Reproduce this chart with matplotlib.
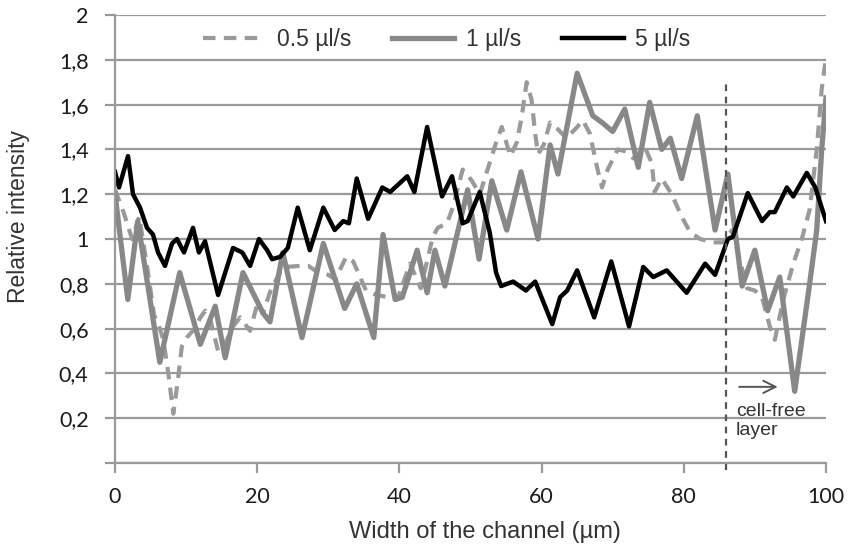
import matplotlib
matplotlib.use("Agg")
import matplotlib.pyplot as plt

# values
x05 = [0, 1.2, 2.4, 3.4, 4.5, 5.5, 6.1, 6.8, 7.5, 8.2, 8.8, 9.4, 10.1, 11.2, 12.0, 12.7,
       13.4, 14.5, 15.3, 16.6, 17.6, 19.0, 20.1, 20.8, 22.0, 23.2, 23.9, 26.0, 27.2, 28.6,
       30.0, 31.0, 32.5, 33.5, 34.2, 35.3, 36.8, 38.5, 39.7, 41.5, 43.0, 44.7, 45.4, 46.7,
       47.5, 48.9, 50.2, 51.3, 52.7, 53.7, 54.4, 55.6, 56.5, 57.2, 57.9, 58.6, 59.1, 59.5,
       60.3, 61.2, 62.3, 63.5, 65.0, 65.8, 66.8, 67.8, 68.5, 69.3, 70.7, 72.0, 72.9, 74.5,
       75.5, 75.9, 76.9, 78.3, 79.7, 80.9, 82.3, 84.1, 85.5, 86.8, 88.9, 90.0, 91.0, 92.1,
       92.8, 94.0, 95.4, 96.6, 97.7, 98.7, 99.4, 100]
y05 = [1.22, 1.12, 1.00, 1.10, 0.88, 0.66, 0.62, 0.55, 0.40, 0.22, 0.36, 0.52, 0.56, 0.60, 0.65, 0.68,
       0.64, 0.50, 0.52, 0.61, 0.65, 0.59, 0.72, 0.67, 0.78, 0.85, 0.875, 0.88, 0.88, 0.85,
       0.84, 0.82, 0.92, 0.90, 0.85, 0.77, 0.75, 0.74, 0.73, 0.89, 0.78, 1.01, 1.05, 1.07,
       1.14, 1.31, 1.26, 1.20, 1.34, 1.44, 1.50, 1.37, 1.43, 1.545, 1.70, 1.62, 1.47, 1.38,
       1.42, 1.52, 1.49, 1.45, 1.50, 1.53, 1.47, 1.32, 1.23, 1.31, 1.40, 1.39, 1.36, 1.41,
       1.34, 1.21, 1.27, 1.20, 1.10, 1.03, 1.00, 0.985, 0.985, 1.04, 0.78, 0.77, 0.74, 0.61,
       0.55, 0.73, 0.89, 1.00, 1.13, 1.40, 1.67, 1.81]

x1 = [0, 1.8, 3.2, 6.3, 9.1, 12.0, 14.1, 15.5, 18.0, 20.8, 21.8, 23.6, 26.3, 29.3, 32.3,
      34.0, 36.4, 37.7, 39.4, 40.4, 42.5, 43.9, 45.0, 46.4, 49.6, 51.2, 53.0, 55.1, 57.1,
      59.5, 61.2, 62.3, 65.0, 67.2, 68.5, 70.0, 71.7, 73.6, 75.2, 76.9, 78.1, 79.7, 81.9,
      84.4, 86.2, 88.2, 90.0, 91.8, 93.5, 95.6, 97.7, 98.7, 99.4, 100]
y1 = [1.20, 0.73, 1.08, 0.45, 0.85, 0.53, 0.70, 0.47, 0.85, 0.67, 0.63, 0.94, 0.56, 0.98, 0.69,
      0.80, 0.56, 1.02, 0.73, 0.74, 0.95, 0.76, 0.95, 0.79, 1.22, 0.91, 1.26, 1.04, 1.30,
      1.00, 1.42, 1.29, 1.74, 1.55, 1.52, 1.48, 1.58, 1.32, 1.61, 1.40, 1.45, 1.27, 1.55,
      1.04, 1.29, 0.79, 0.95, 0.68, 0.83, 0.32, 0.80, 1.04, 1.40, 1.63]

x5 = [0, 0.56, 1.83, 2.53, 3.52, 4.5, 5.34, 6.05, 7.03, 8.02, 8.72, 9.7, 10.97, 11.8, 12.66,
      14.5, 16.6, 17.9, 19.0, 20.25, 21.4, 22.1, 23.2, 24.3, 25.7, 27.4, 29.3, 30.9, 32.1,
      32.9, 34.0, 35.6, 37.6, 38.7, 41.1, 42.1, 43.9, 46.0, 47.4, 48.9, 49.6, 51.3, 52.7,
      53.6, 54.3, 56.0, 57.8, 59.1, 61.5, 62.6, 63.6, 65.0, 67.4, 69.8, 72.3, 74.3, 75.7,
      77.6, 80.4, 83.0, 84.4, 86.2, 86.9, 89.0, 91.0, 92.1, 92.8, 94.5, 95.4, 97.3, 98.5, 100]
y5 = [1.30, 1.23, 1.37, 1.20, 1.14, 1.05, 1.02, 0.94, 0.88, 0.98, 1.00, 0.94, 1.05, 0.94, 0.99,
      0.75, 0.96, 0.94, 0.88, 1.00, 0.95, 0.91, 0.92, 0.96, 1.14, 0.95, 1.14, 1.04, 1.08,
      1.07, 1.27, 1.09, 1.23, 1.21, 1.28, 1.21, 1.50, 1.19, 1.28, 1.07, 1.08, 1.21, 1.03,
      0.85, 0.79, 0.81, 0.77, 0.81, 0.62, 0.74, 0.77, 0.86, 0.65, 0.90, 0.61, 0.875, 0.83,
      0.86, 0.76, 0.89, 0.84, 1.00, 1.01, 1.205, 1.08, 1.12, 1.12, 1.23, 1.19, 1.295, 1.23, 1.08]

series_labels = ["0.5 µl/s", "1 µl/s", "5 µl/s"]
x_ticks = [0, 20, 40, 60, 80, 100]
y_ticks = [0, 0.2, 0.4, 0.6, 0.8, 1.0, 1.2, 1.4, 1.6, 1.8, 2.0]
y_tick_labels = ["", "0,2", "0,4", "0,6", "0,8", "1", "1,2", "1,4", "1,6", "1,8", "2"]
cell_free_x = 86

fig = plt.figure(figsize=(8.57, 5.49), dpi=100)
ax = fig.add_axes([0.1342, 0.1566, 0.8296, 0.8161])

grid_col = "#9a9a9a"
ax.plot(x05, y05, color="#9a9a9a", lw=3, dashes=[3, 2], label=series_labels[0],
        solid_joinstyle="round", dash_joinstyle="round")
ax.plot(x1, y1, color="#888888", lw=3.8, label=series_labels[1], solid_joinstyle="round")
ax.plot(x5, y5, color="black", lw=3.2, label=series_labels[2], solid_joinstyle="round")

ax.set_xlim(0, 100)
ax.set_ylim(0, 2)
ax.set_xticks(x_ticks)
ax.set_yticks(y_ticks)
ax.set_yticklabels(y_tick_labels)
ax.yaxis.grid(True, color=grid_col, lw=1.6)
ax.set_axisbelow(True)

for s in ["top", "right"]:
    ax.spines[s].set_visible(False)
for s in ["left", "bottom"]:
    ax.spines[s].set_color(grid_col)
    ax.spines[s].set_linewidth(1.6)

ax.tick_params(axis="both", direction="out", length=7, width=1.6, color=grid_col,
               labelsize=15.5, labelcolor="#1a1a1a")
ax.tick_params(axis="y", pad=12)
ax.tick_params(axis="x", pad=10)
for lab in ax.get_xticklabels() + ax.get_yticklabels():
    lab.set_family("Lato")

ax.set_xlabel("Width of the channel (µm)", fontsize=17, family="Liberation Sans",
              color="#333333")
ax.xaxis.set_label_coords(0.52, -0.13)
ax.set_ylabel("Relative intensity", fontsize=16.5, family="Liberation Sans", color="#333333")
ax.yaxis.set_label_coords(-0.12, 0.55)

# cell-free layer marker
ax.plot([cell_free_x, cell_free_x], [-0.03, 1.70], color="#555555", lw=1.6,
        dashes=[3, 2.5], clip_on=False)
ax.annotate("", xy=(93.6, 0.34), xytext=(87.4, 0.34),
            arrowprops=dict(arrowstyle="->", color="#555555", lw=1.4, mutation_scale=22))
ax.text(87.3, 0.27, "cell-free\nlayer", fontsize=14, family="Liberation Sans",
        color="#333333", va="top", ha="left", linespacing=1.2)

leg = ax.legend(loc="center", bbox_to_anchor=(0.467, 0.945), ncol=3, frameon=False,
                handlelength=2.7, handletextpad=0.5, columnspacing=1.8,
                prop={"family": "Liberation Sans", "size": 16.5})
for t in leg.get_texts():
    t.set_color("#333333")

fig.savefig("out.png", dpi=100)
